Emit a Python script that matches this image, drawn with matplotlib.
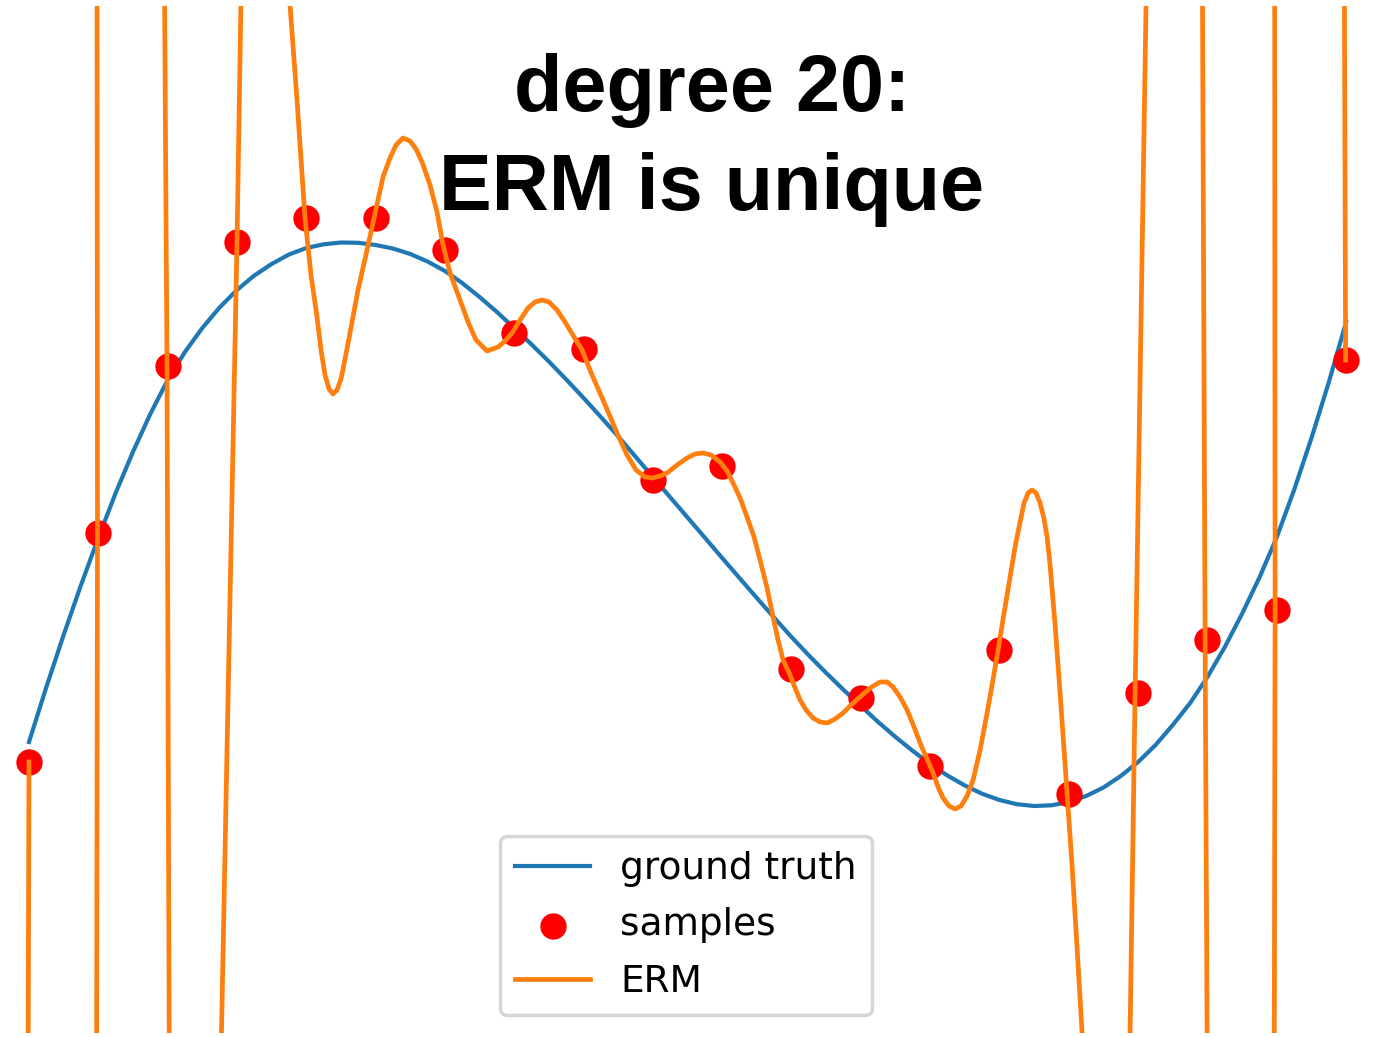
import matplotlib
matplotlib.use("Agg")
import matplotlib.pyplot as plt

# ---------------------------------------------------------------------------
# values
# ---------------------------------------------------------------------------
sample_x = [0.0, 0.0526, 0.1053, 0.1579, 0.2105, 0.2632, 0.3158, 0.3684, 0.4211, 0.4737,
            0.5263, 0.5789, 0.6316, 0.6842, 0.7368, 0.7895, 0.8421, 0.8947, 0.9474, 1.0]
sample_y = [-2.42, -0.13, 1.54, 2.78, 3.02, 3.02, 2.70, 1.87, 1.71, 0.40,
            0.54, -1.49, -1.78, -2.46, -1.30, -2.74, -1.73, -1.20, -0.90, 1.60]

truth_x = [0.0, 0.0132, 0.0263, 0.0395, 0.0526, 0.0658, 0.0789, 0.0921, 0.1053, 0.1184,
           0.1316, 0.1447, 0.1579, 0.1711, 0.1842, 0.1974, 0.2105, 0.2237, 0.2368, 0.25,
           0.2632, 0.2763, 0.2895, 0.3026, 0.3158, 0.3289, 0.3421, 0.3553, 0.3684, 0.3816,
           0.3947, 0.4079, 0.4211, 0.4342, 0.4474, 0.4605, 0.4737, 0.4868, 0.5, 0.5132,
           0.5263, 0.5395, 0.5526, 0.5658, 0.5789, 0.5921, 0.6053, 0.6184, 0.6316, 0.6447,
           0.6579, 0.6711, 0.6842, 0.6974, 0.7105, 0.7237, 0.7368, 0.75, 0.7632, 0.7763,
           0.7895, 0.8026, 0.8158, 0.8289, 0.8421, 0.8553, 0.8684, 0.8816, 0.8947, 0.9079,
           0.9211, 0.9342, 0.9474, 0.9605, 0.9737, 0.9868, 1.0]
truth_y = [-2.22, -1.67, -1.15, -0.65, -0.18, 0.27, 0.68, 1.06, 1.40, 1.68,
           1.92, 2.125, 2.30, 2.445, 2.56, 2.655, 2.72, 2.757, 2.775, 2.772,
           2.75, 2.715, 2.66, 2.585, 2.49, 2.37, 2.23, 2.08, 1.92, 1.755,
           1.585, 1.405, 1.22, 1.03, 0.835, 0.633, 0.43, 0.228, 0.025, -0.178,
           -0.38, -0.581, -0.78, -0.977, -1.17, -1.354, -1.53, -1.698, -1.86, -2.02,
           -2.17, -2.31, -2.44, -2.556, -2.655, -2.738, -2.80, -2.842, -2.86, -2.853,
           -2.82, -2.76, -2.675, -2.56, -2.42, -2.25, -2.05, -1.83, -1.57, -1.27,
           -0.935, -0.575, -0.17, 0.30, 0.82, 1.375, 1.98]

# degree-20 fit; +-6.13 are excursions far outside the visible window
erm_x = [0.0, -0.0008, 0.05125, 0.05201, 0.05163, 0.10251, 0.10478, 0.10668, 0.14465, 0.15794,
         0.16211, 0.19286, 0.19818, 0.20349, 0.20957, 0.21412, 0.21868, 0.22172, 0.22476, 0.22779,
         0.23083, 0.23387, 0.23690, 0.23994, 0.24374, 0.24981, 0.25665, 0.26196, 0.26880, 0.27411,
         0.27867, 0.28398, 0.28929, 0.29385, 0.29841, 0.30448, 0.30979, 0.31435, 0.31967, 0.32726,
         0.33333, 0.33941, 0.34776, 0.35611, 0.36143, 0.36674, 0.37282, 0.37889, 0.38421, 0.38952,
         0.39484, 0.40091, 0.40699, 0.41382, 0.41989, 0.42749, 0.43584, 0.44647, 0.45406, 0.46090,
         0.46773, 0.47304, 0.47912, 0.48443, 0.49203, 0.49962, 0.50569, 0.51177, 0.51784, 0.52468,
         0.53000, 0.53455, 0.53987, 0.54518, 0.55050, 0.55505, 0.56037, 0.56492, 0.56872, 0.57252,
         0.57783, 0.58163, 0.58543, 0.58998, 0.59530, 0.60061, 0.60593, 0.61200, 0.61807, 0.62415,
         0.63098, 0.63857, 0.64617, 0.65148, 0.65604, 0.66135, 0.66667, 0.67198, 0.67654, 0.68185,
         0.68641, 0.69021, 0.69400, 0.69856, 0.70311, 0.70767, 0.71222, 0.71678, 0.72210, 0.72741,
         0.73121, 0.73576, 0.74032, 0.74487, 0.74867, 0.75247, 0.75550, 0.75854, 0.76158, 0.76462,
         0.76765, 0.77069, 0.77297, 0.77525, 0.77904, 0.78284, 0.78816, 0.79196, 0.79575, 0.79954,
         0.80410, 0.83485, 0.83979, 0.84928, 0.89066, 0.89294, 0.89483, 0.94533, 0.94609, 0.94571,
         0.99848, 0.99962]
erm_y = [-2.42, -6.13, -6.13, -0.13, 6.14, 6.14, 1.54, -6.13, -6.13, 2.78,
         6.14, 6.14, 5.15, 4.20, 3.02, 2.45, 2.03, 1.70, 1.45, 1.31,
         1.26, 1.30, 1.41, 1.61, 1.87, 2.30, 2.70, 3.02, 3.43, 3.62,
         3.75, 3.82, 3.79, 3.71, 3.58, 3.35, 3.08, 2.75, 2.47, 2.20,
         1.98, 1.80, 1.69, 1.73, 1.79, 1.87, 2.00, 2.12, 2.18, 2.20,
         2.18, 2.10, 1.98, 1.83, 1.70, 1.45, 1.20, 0.87, 0.65, 0.50,
         0.43, 0.42, 0.44, 0.47, 0.55, 0.62, 0.66, 0.67, 0.65, 0.58,
         0.49, 0.37, 0.22, 0.03, -0.17, -0.40, -0.68, -0.97, -1.20, -1.40,
         -1.55, -1.68, -1.80, -1.90, -1.98, -2.02, -2.03, -1.99, -1.93, -1.85,
         -1.77, -1.68, -1.62, -1.62, -1.67, -1.77, -1.90, -2.07, -2.23, -2.39,
         -2.53, -2.67, -2.78, -2.86, -2.89, -2.86, -2.76, -2.60, -2.30, -1.93,
         -1.65, -1.30, -0.93, -0.57, -0.27, -0.02, 0.17, 0.27, 0.30, 0.27,
         0.17, 0.01, -0.17, -0.45, -1.05, -1.73, -2.74, -3.46, -4.28, -5.13,
         -6.13, -6.13, -1.73, 6.14, 6.14, -1.20, -6.13, -6.13, -0.90, 6.14,
         6.14, 1.60]

title = "degree 20:\nERM is unique"


fig = plt.figure(figsize=(13.83, 10.37), dpi=100)
ax = fig.add_axes([0, 4 / 1037, 1, 1027 / 1037])
ax.axis("off")

h_truth, = ax.plot(truth_x, truth_y, color="#1f77b4", lw=3.0, label="ground truth", zorder=2)
h_samp = ax.scatter(sample_x, sample_y, s=360, color="red", lw=0, label="samples", zorder=3)
h_erm, = ax.plot(erm_x, erm_y, color="#ff7f0e", lw=3.4, label="ERM", zorder=4)

ax.set_xlim(-0.022, 1.028)
ax.set_ylim(-5.13, 5.14)

leg = ax.legend(handles=[h_truth, h_samp, h_erm], loc="lower center",
                bbox_to_anchor=(0.496, 0.0175), borderaxespad=0, fontsize=27,
                labelspacing=0.55)
leg.get_frame().set_linewidth(2.5)

fig.text(0.5148, (1037 - 210) / 1037, title, ha="center", va="baseline",
         fontsize=57, fontweight="bold", family=["Liberation Sans", "DejaVu Sans"],
         linespacing=1.41)

fig.savefig("out.png", dpi=100)
